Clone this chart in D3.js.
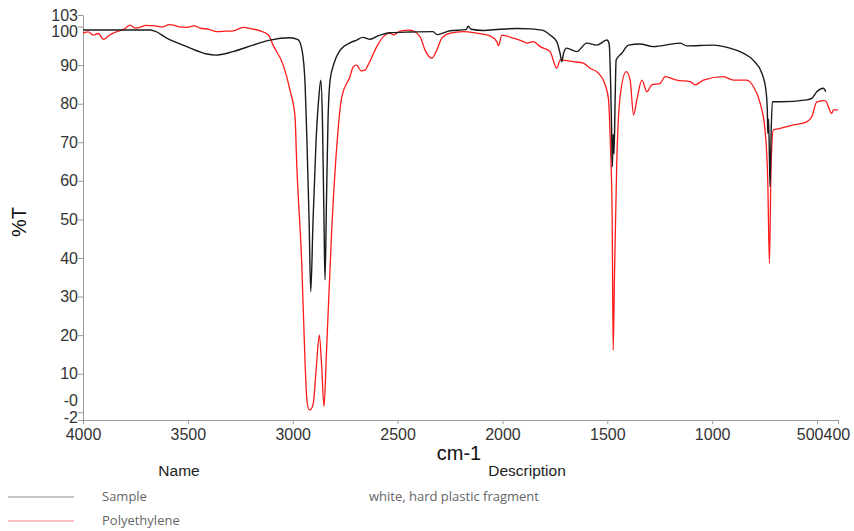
<!DOCTYPE html>
<html>
<head>
<meta charset="utf-8">
<script src="https://cdn.jsdelivr.net/npm/d3@7"></script>
<style>
  body { margin: 0; background: #fff; }
  .axis text { font-family: "Liberation Sans", Arial, sans-serif; font-size: 16px; fill: #333; }
  .axis path, .axis line { stroke: #999; }
</style>
</head>
<body>
<div class="spectrum-container"></div>
<script>
// Sample spectrum (wavenumber cm-1, %T)
const sampleWn = [4000, 3680, 3657, 3601, 3505, 3410, 3370, 3285, 3189, 3108, 3013, 2975, 2956, 2941, 2932, 2922, 2914,
    2903, 2889, 2875, 2866, 2858, 2851, 2846, 2839, 2832, 2822, 2803, 2774, 2727, 2695, 2665, 2631, 2593, 2536, 2441,
    2331, 2312, 2250, 2173, 2164, 2150, 2092, 2011, 1930, 1868, 1806, 1773, 1741, 1725, 1717, 1709, 1694, 1646, 1598,
    1550, 1502, 1491, 1484, 1479, 1476, 1472, 1468, 1463, 1458, 1431, 1399, 1344, 1282, 1153, 1121, 996, 915, 867, 805,
    763, 744, 737, 735, 731, 727, 724, 719, 713, 676, 549, 525, 501, 470, 458];
const sampleT = [99.1, 99.1, 98.8, 97.0, 94.8, 92.9, 92.6, 93.5, 95.2, 96.5, 97.1, 96.6, 94, 85, 70, 50, 31.3,
    50, 70, 82, 86.1, 75, 50, 34.3, 55, 75, 86, 90.5, 93.9, 95.8, 96.5, 97.2, 96.7, 97.6, 98.4, 98.6,
    98.7, 97.9, 98.9, 99.2, 100.1, 99.3, 99.0, 99.3, 99.5, 99.4, 99.0, 97.8, 96.1, 93, 90.9, 93, 94.4, 93.5, 95.7,
    95.2, 96.5, 95.5, 85, 72, 63.7, 72, 67, 80, 91.3, 93.1, 95.2, 95.5, 94.8, 95.7, 95.0, 95.2, 94.4, 93.5, 91.3,
    87.9, 83.6, 78.4, 72.3, 76, 66, 58.5, 72, 80.5, 80.5, 81, 81.4, 83.1, 84, 83.1];

// Polyethylene reference spectrum
const polyWn = [4000, 3975, 3951, 3927, 3903, 3880, 3856, 3830, 3800, 3776, 3752, 3728, 3700, 3657, 3620, 3590, 3569,
    3540, 3504, 3470, 3442, 3400, 3362, 3320, 3283, 3236, 3194, 3156, 3116, 3092, 3045, 3013, 2989, 2981, 2957, 2941,
    2932, 2921, 2913, 2902, 2887, 2873, 2862, 2851, 2838, 2814, 2790, 2766, 2727, 2711, 2695, 2674, 2655, 2641, 2599,
    2568, 2536, 2520, 2488, 2441, 2393, 2369, 2337, 2313, 2289, 2250, 2186, 2122, 2059, 2027, 2019, 2003, 1948, 1900,
    1884, 1852, 1820, 1773, 1741, 1725, 1662, 1614, 1582, 1542, 1510, 1494, 1485, 1477, 1472, 1466, 1455, 1439, 1410,
    1391, 1375, 1359, 1335, 1311, 1288, 1248, 1224, 1169, 1105, 1081, 1042, 947, 899, 835, 803, 771, 748, 735, 727,
    719, 708, 676, 613, 549, 525, 501, 461, 430, 422, 400];
const polyT = [98.3, 98.6, 97.8, 98.2, 96.7, 97.5, 98.3, 98.8, 99.5, 100.4, 99.6, 99.8, 100.3, 100.2, 99.9, 100.5, 100.4,
    99.9, 99.8, 100.2, 99.6, 99.3, 98.7, 98.8, 98.9, 99.8, 99.4, 98.9, 97.8, 95.0, 90.0, 83.5, 76.6, 64.5, 38.6, 12.7,
    3, 0.6, 0.8, 2.3, 12, 20.0, 12, 1.5, 17, 47.3, 68.9, 81.8, 87, 89.6, 90, 88.5, 88.7, 90, 94.8,
    97.4, 98.3, 97.8, 98.8, 99.1, 97.4, 93.9, 91.8, 93.9, 97, 98.3, 98.7, 98.3, 97.6, 96.1, 95, 97.8, 97, 96.1,
    95.7, 96.1, 94.8, 93.5, 89.2, 91.3, 90.9, 90.5, 89.2, 87.9, 84.9, 81, 68.9, 51.6, 16.1, 35, 64.5, 81.8, 88.3,
    86.1, 77.1, 81, 86.1, 83.1, 84.9, 85.3, 87, 86.1, 85.7, 84.9, 86.1, 87, 86.1, 86.1, 84.4, 80.1, 73.2, 60.2, 38.6,
    64.5, 73.2, 73.6, 74.5, 75.3, 76.6, 80.5, 80.8, 77.5, 78.4, 78.4];

const xTicks = [4000, 3500, 3000, 2500, 2000, 1500, 1000, 500, 400];
const yTicks = [-2, 0, 10, 20, 30, 40, 50, 60, 70, 80, 90, 100, 103];
const yTickLabels = ["-2", "-0", "10", "20", "30", "40", "50", "60", "70", "80", "90", "100", "103"];

const legendNames = ["Sample", "Polyethylene"];
const legendDescriptions = ["white, hard plastic fragment", ""];

const width = 854;
const height = 531;

const x = d3.scaleLinear().domain([4000, 400]).range([83, 838]);
const y = d3.scaleLinear().domain([-2, 103]).range([420, 15]);

const svg = d3.select(".spectrum-container").append("svg")
    .attr("width", width)
    .attr("height", height);

// axes
const yAxis = svg.append("g")
    .attr("class", "axis")
    .attr("transform", "translate(83,0)")
    .call(d3.axisLeft(y).tickValues(yTicks).tickSize(5).tickSizeOuter(0)
        .tickFormat((d, i) => yTickLabels[i]));
// labels of the crowded ticks (0/-2, 100/103) are pushed apart like in the original
yAxis.selectAll(".tick text")
    .attr("x", -5)
    .attr("dy", d => d === 100 ? "0.62em" : d === 0 ? "-0.4em" : d === -2 ? "0.15em" : "0.32em");

const xAxis = svg.append("g")
    .attr("class", "axis")
    .attr("transform", "translate(0,420)")
    .call(d3.axisBottom(x).tickValues(xTicks).tickSize(4).tickSizeOuter(0).tickFormat(d3.format("d")));
xAxis.selectAll(".tick text").attr("y", 9);
// 500 and 400 sit so close that their labels run together
xAxis.selectAll(".tick")
    .filter(d => d === 500).select("text").attr("text-anchor", "end").attr("dx", 6);
xAxis.selectAll(".tick")
    .filter(d => d === 400).select("text").attr("text-anchor", "start").attr("dx", -15);

// axis titles
svg.append("text")
    .attr("transform", "translate(26,222) rotate(-90)")
    .attr("text-anchor", "middle")
    .style("font-family", "Liberation Sans, Arial, sans-serif")
    .style("font-size", "20px")
    .style("fill", "#111")
    .text("%T");

svg.append("text")
    .attr("x", 459)
    .attr("y", 460)
    .attr("text-anchor", "middle")
    .style("font-family", "Liberation Sans, Arial, sans-serif")
    .style("font-size", "20px")
    .style("fill", "#111")
    .text("cm-1");

// spectra
const line = d3.line()
    .x(d => x(d[0]))
    .y(d => y(d[1]))
    .curve(d3.curveMonotoneX);

svg.append("path")
    .datum(polyWn.map((w, i) => [w, polyT[i]]))
    .attr("d", line)
    .attr("fill", "none")
    .attr("stroke", "#ff1a1a")
    .attr("stroke-width", 1.3);

svg.append("path")
    .datum(sampleWn.map((w, i) => [w, sampleT[i]]))
    .attr("d", line)
    .attr("fill", "none")
    .attr("stroke", "#1a1a1a")
    .attr("stroke-width", 1.4);

// legend table
svg.append("text")
    .attr("x", 179).attr("y", 476)
    .attr("text-anchor", "middle")
    .style("font-family", "Liberation Sans, Arial, sans-serif")
    .style("font-size", "15.5px")
    .style("fill", "#222")
    .text("Name");

svg.append("text")
    .attr("x", 527).attr("y", 476)
    .attr("text-anchor", "middle")
    .style("font-family", "Liberation Sans, Arial, sans-serif")
    .style("font-size", "15.5px")
    .style("fill", "#222")
    .text("Description");

const legendColors = ["#8c8c8c", "#ff8080"];
const rows = svg.selectAll(".legend-row")
    .data(legendNames)
    .enter()
    .append("g")
    .attr("class", "legend-row")
    .attr("transform", (d, i) => `translate(0,${497 + i * 24})`);

rows.append("line")
    .attr("x1", 8).attr("x2", 74)
    .attr("stroke", (d, i) => legendColors[i])
    .attr("stroke-width", 1.2);

rows.append("text")
    .attr("x", 102).attr("dy", "0.32em")
    .style("font-family", "Open Sans, sans-serif")
    .style("font-size", "13px")
    .style("fill", "#666")
    .text(d => d);

rows.append("text")
    .attr("x", 369).attr("dy", "0.32em")
    .style("font-family", "Open Sans, sans-serif")
    .style("font-size", "13px")
    .style("fill", "#666")
    .text((d, i) => legendDescriptions[i]);
</script>
</body>
</html>
